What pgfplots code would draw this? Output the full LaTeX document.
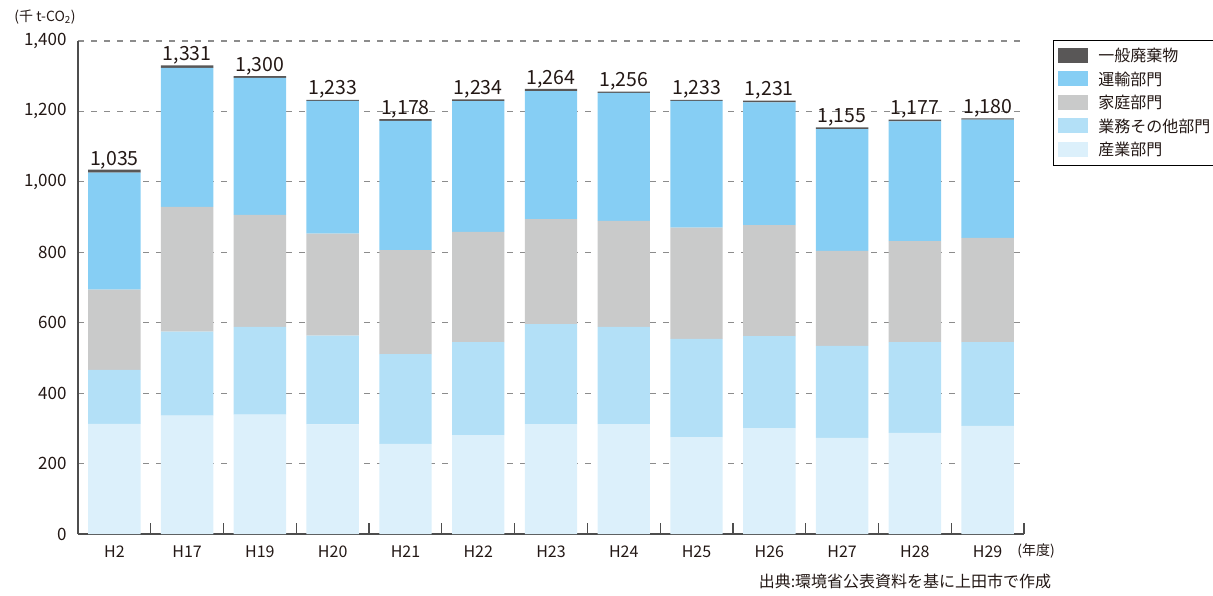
\documentclass[border=0pt]{standalone}
\usepackage{fontspec}
\setmainfont{Noto Sans CJK JP}
\usepackage{pgfplots}
\pgfplotsset{compat=1.18}
\definecolor{cWaste}{HTML}{595757}
\definecolor{cTrans}{HTML}{86CEF4}
\definecolor{cHome}{HTML}{C9CACA}
\definecolor{cBiz}{HTML}{B3E0F7}
\definecolor{cInd}{HTML}{DCF0FB}
\definecolor{axgray}{HTML}{4D4D4D}
\definecolor{txt}{HTML}{231815}
\begin{document}
\begin{tikzpicture}[x=1pt,y=1pt]
\path[use as bounding box] (0,0) rectangle (1213,595);
\begin{axis}[
  at={(78pt,61pt)}, anchor=south west,
  scale only axis, width=946pt, height=493pt,
  ybar stacked, bar width=0.72,
  xmin=-0.5, xmax=12.5, ymin=0, ymax=1400,
  axis lines=left,
  axis line style={-, draw=axgray, line width=1.5pt},
  xtick={0,...,12},
  xticklabels={H2,H17,H19,H20,H21,H22,H23,H24,H25,H26,H27,H28,H29},
  minor xtick={0.5,1.5,...,12.5},
  major tick length=0pt, minor tick length=11pt, tick align=inside,
  minor tick style={draw=axgray, line width=1.2pt},
  ytick={0,200,...,1400},
  ymajorgrids,
  major grid style={dash pattern=on 6pt off 7pt, draw=black!45, line width=1.2pt},
  yticklabel style={font=\fontsize{17}{20}\selectfont, text=txt, xshift=-8pt},
  xticklabel style={font=\fontsize{16}{19}\selectfont, text=txt, yshift=-8pt},
  /pgf/number format/1000 sep={,},
  /pgf/number format/assume math mode=true,
  legend style={at={(1.0307,1.002)}, anchor=north west, draw=black, line width=0.8pt,
    font=\fontsize{16}{19}\selectfont, text=txt, row sep=4.5pt, inner xsep=5pt, inner ysep=6pt,
    cells={anchor=west}},
  reverse legend,
  legend image code/.code={\fill[#1] (0pt,-7pt) rectangle (30pt,8pt); \path (38pt,0pt);},
]
\addplot[fill=cInd, draw=none] coordinates {(0,313) (1,336) (2,339) (3,311) (4,256) (5,281) (6,312) (7,312) (8,275) (9,301) (10,273) (11,287) (12,307)};
\addlegendentry{産業部門}
\addplot[fill=cBiz, draw=none] coordinates {(0,153) (1,239) (2,249) (3,252) (4,255) (5,264) (6,284) (7,276) (8,279) (9,261) (10,261) (11,258) (12,238)};
\addlegendentry{業務その他部門}
\addplot[fill=cHome, draw=none] coordinates {(0,228) (1,354) (2,318) (3,290) (4,295) (5,313) (6,298) (7,301) (8,316) (9,315) (10,270) (11,287) (12,296)};
\addlegendentry{家庭部門}
\addplot[fill=cTrans, draw=none] coordinates {(0,332) (1,395) (2,389) (3,377) (4,367) (5,371) (6,364) (7,364) (8,360) (9,349) (10,346) (11,340) (12,336)};
\addlegendentry{運輸部門}
\addplot[fill=cWaste, draw=none, point meta=explicit,
  nodes near coords,
  nodes near coords style={font=\fontsize{19.5}{22}\selectfont, text=txt, anchor=south, inner sep=2pt}]
  coordinates {(0,9) [1035] (1,7) [1331] (2,5) [1300] (3,3) [1233] (4,5) [1178] (5,5) [1234] (6,6) [1264] (7,3) [1256] (8,3) [1233] (9,5) [1231] (10,5) [1155] (11,5) [1177] (12,3) [1180]};
\addlegendentry{一般廃棄物}
\end{axis}
\node[font=\fontsize{14}{16}\selectfont, text=txt] at (45,578) {(千 t-CO\textsubscript{2})};
\node[font=\fontsize{14}{16}\selectfont, text=txt] at (1036,44) {(年度)};
\node[font=\fontsize{16}{18}\selectfont, text=txt] at (905,14) {出典:環境省公表資料を基に上田市で作成};
\end{tikzpicture}
\end{document}
